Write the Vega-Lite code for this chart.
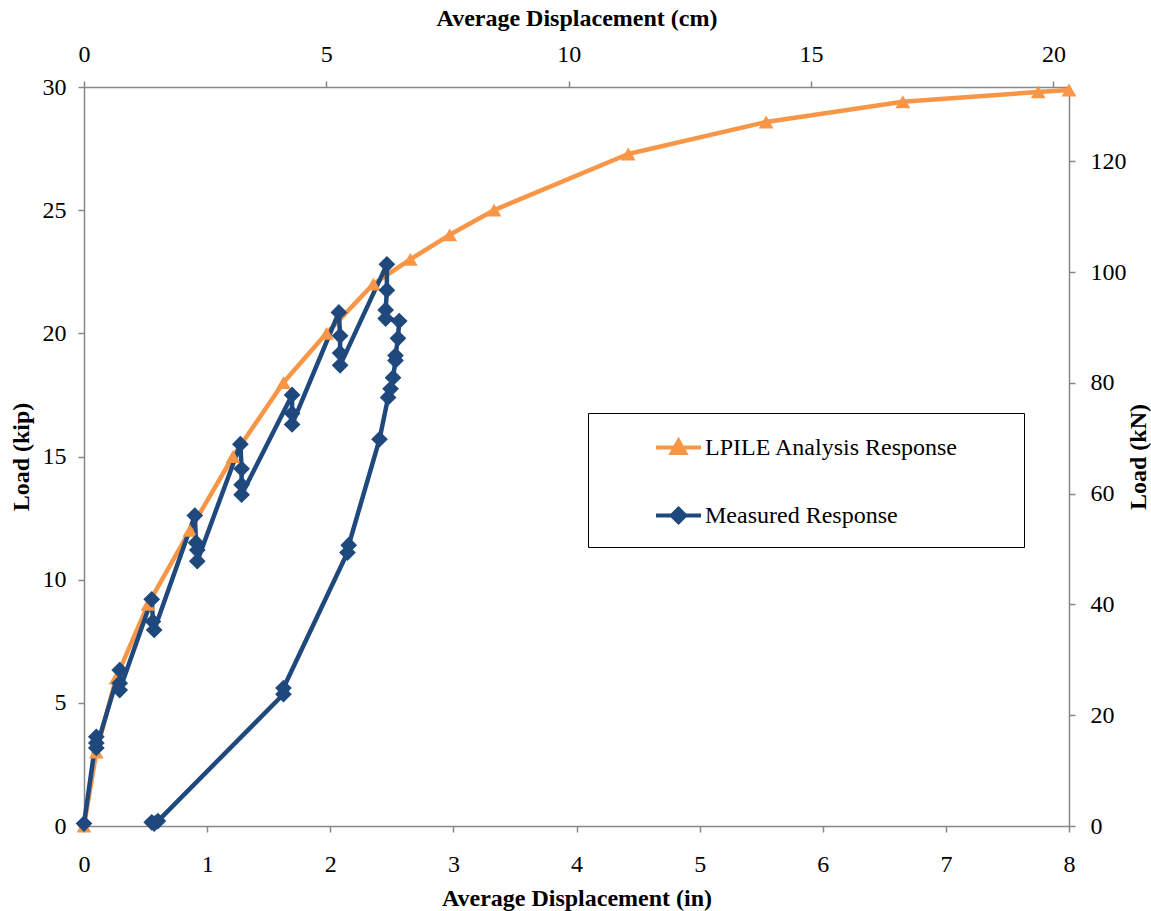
{
  "$schema": "https://vega.github.io/schema/vega-lite/v6.json",
  "width": 985,
  "height": 739,
  "autosize": {"type": "none"},
  "padding": {"left": 84, "top": 87, "right": 82, "bottom": 85},
  "background": "white",
  "config": {
    "view": {"stroke": null},
    "axis": {
      "grid": false,
      "labelFlush": false,
      "domainColor": "#878787",
      "domainWidth": 1.5,
      "tickColor": "#878787",
      "tickWidth": 1.5,
      "tickSize": 6,
      "labelFont": "Liberation Serif",
      "labelFontSize": 24,
      "labelColor": "#000000",
      "labelPadding": 15,
      "titleFont": "Liberation Serif",
      "titleFontSize": 24,
      "titleFontWeight": "bold",
      "titleColor": "#000000"
    }
  },
  "datasets": {
    "curves": [
      {"series": "LPILE Analysis Response", "i": 0, "in": 0.0, "kip": 0.0},
      {"series": "LPILE Analysis Response", "i": 1, "in": 0.1, "kip": 3.0},
      {"series": "LPILE Analysis Response", "i": 2, "in": 0.26, "kip": 6.0},
      {"series": "LPILE Analysis Response", "i": 3, "in": 0.52, "kip": 9.0},
      {"series": "LPILE Analysis Response", "i": 4, "in": 0.86, "kip": 12.0},
      {"series": "LPILE Analysis Response", "i": 5, "in": 1.21, "kip": 15.0},
      {"series": "LPILE Analysis Response", "i": 6, "in": 1.62, "kip": 18.0},
      {"series": "LPILE Analysis Response", "i": 7, "in": 1.97, "kip": 20.0},
      {"series": "LPILE Analysis Response", "i": 8, "in": 2.35, "kip": 22.0},
      {"series": "LPILE Analysis Response", "i": 9, "in": 2.65, "kip": 23.0},
      {"series": "LPILE Analysis Response", "i": 10, "in": 2.97, "kip": 24.0},
      {"series": "LPILE Analysis Response", "i": 11, "in": 3.33, "kip": 25.0},
      {"series": "LPILE Analysis Response", "i": 12, "in": 4.42, "kip": 27.28},
      {"series": "LPILE Analysis Response", "i": 13, "in": 5.54, "kip": 28.58},
      {"series": "LPILE Analysis Response", "i": 14, "in": 6.65, "kip": 29.4},
      {"series": "LPILE Analysis Response", "i": 15, "in": 7.75, "kip": 29.8},
      {"series": "LPILE Analysis Response", "i": 16, "in": 8.0, "kip": 29.88},
      {"series": "Measured Response", "i": 0, "in": 0.0, "kip": 0.1},
      {"series": "Measured Response", "i": 1, "in": 0.1, "kip": 3.62},
      {"series": "Measured Response", "i": 2, "in": 0.1, "kip": 3.37},
      {"series": "Measured Response", "i": 3, "in": 0.1, "kip": 3.17},
      {"series": "Measured Response", "i": 4, "in": 0.29, "kip": 6.33},
      {"series": "Measured Response", "i": 5, "in": 0.29, "kip": 5.8},
      {"series": "Measured Response", "i": 6, "in": 0.29, "kip": 5.52},
      {"series": "Measured Response", "i": 7, "in": 0.55, "kip": 9.2},
      {"series": "Measured Response", "i": 8, "in": 0.56, "kip": 8.3},
      {"series": "Measured Response", "i": 9, "in": 0.57, "kip": 7.96},
      {"series": "Measured Response", "i": 10, "in": 0.9, "kip": 12.6},
      {"series": "Measured Response", "i": 11, "in": 0.91, "kip": 11.5},
      {"series": "Measured Response", "i": 12, "in": 0.92, "kip": 11.2},
      {"series": "Measured Response", "i": 13, "in": 0.92, "kip": 10.75},
      {"series": "Measured Response", "i": 14, "in": 1.27, "kip": 15.5},
      {"series": "Measured Response", "i": 15, "in": 1.28, "kip": 14.5},
      {"series": "Measured Response", "i": 16, "in": 1.28, "kip": 13.85},
      {"series": "Measured Response", "i": 17, "in": 1.28, "kip": 13.45},
      {"series": "Measured Response", "i": 18, "in": 1.69, "kip": 17.5},
      {"series": "Measured Response", "i": 19, "in": 1.69, "kip": 16.75},
      {"series": "Measured Response", "i": 20, "in": 1.69, "kip": 16.3},
      {"series": "Measured Response", "i": 21, "in": 2.07, "kip": 20.85},
      {"series": "Measured Response", "i": 22, "in": 2.08, "kip": 19.9},
      {"series": "Measured Response", "i": 23, "in": 2.08, "kip": 19.2},
      {"series": "Measured Response", "i": 24, "in": 2.08, "kip": 18.7},
      {"series": "Measured Response", "i": 25, "in": 2.46, "kip": 22.8},
      {"series": "Measured Response", "i": 26, "in": 2.46, "kip": 21.75},
      {"series": "Measured Response", "i": 27, "in": 2.45, "kip": 20.95},
      {"series": "Measured Response", "i": 28, "in": 2.45, "kip": 20.6},
      {"series": "Measured Response", "i": 29, "in": 2.56, "kip": 20.5},
      {"series": "Measured Response", "i": 30, "in": 2.55, "kip": 19.8},
      {"series": "Measured Response", "i": 31, "in": 2.53, "kip": 19.1},
      {"series": "Measured Response", "i": 32, "in": 2.53, "kip": 18.9},
      {"series": "Measured Response", "i": 33, "in": 2.51, "kip": 18.2},
      {"series": "Measured Response", "i": 34, "in": 2.49, "kip": 17.75},
      {"series": "Measured Response", "i": 35, "in": 2.47, "kip": 17.4},
      {"series": "Measured Response", "i": 36, "in": 2.4, "kip": 15.7},
      {"series": "Measured Response", "i": 37, "in": 2.15, "kip": 11.4},
      {"series": "Measured Response", "i": 38, "in": 2.14, "kip": 11.1},
      {"series": "Measured Response", "i": 39, "in": 1.62, "kip": 5.6},
      {"series": "Measured Response", "i": 40, "in": 1.62, "kip": 5.35},
      {"series": "Measured Response", "i": 41, "in": 0.6, "kip": 0.2},
      {"series": "Measured Response", "i": 42, "in": 0.57, "kip": 0.1},
      {"series": "Measured Response", "i": 43, "in": 0.55, "kip": 0.15}
    ],
    "metric": [
      {"cm": 0, "kN": 0},
      {"cm": 20.32, "kN": 133.45}
    ]
  },
  "layer": [
    {
      "data": {"name": "curves"},
      "encoding": {
        "x": {
          "field": "in", "type": "quantitative",
          "scale": {"domain": [0, 8], "nice": false, "zero": false},
          "axis": {"orient": "bottom", "values": [0, 1, 2, 3, 4, 5, 6, 7, 8], "title": "Average Displacement  (in)", "labelPadding": 20, "titlePadding": 10}
        },
        "y": {
          "field": "kip", "type": "quantitative",
          "scale": {"domain": [0, 30], "nice": false, "zero": false},
          "axis": {"orient": "left", "values": [0, 5, 10, 15, 20, 25, 30], "title": "Load (kip)", "labelPadding": 12, "titlePadding": 9}
        },
        "color": {
          "field": "series", "type": "nominal",
          "scale": {"domain": ["LPILE Analysis Response", "Measured Response"], "range": ["#F79646", "#1F497D"]},
          "legend": {
            "title": null,
            "orient": "none",
            "legendX": 504,
            "legendY": 326,
            "direction": "vertical",
            "padding": 10,
            "strokeColor": "#000000",
            "fillColor": "#ffffff",
            "symbolOffset": 56,
            "labelOffset": 2,
            "rowPadding": 22,
            "labelFont": "Liberation Serif",
            "labelFontSize": 24,
            "labelColor": "#000000",
            "labelLimit": 600,
            "encode": {
              "symbols": {
                "update": {
                  "shape": {"signal": "datum.value === 'LPILE Analysis Response' ? 'M-1,0H1M0,-0.3L0.3,0.24L-0.3,0.24ZM14.55,0.58' : 'M-1,0H1M0,-0.3L0.3,0L0,0.3L-0.3,0ZM14.55,0.58'"},
                  "size": {"value": 2025},
                  "stroke": {"signal": "datum.value === 'LPILE Analysis Response' ? '#F79646' : '#1F497D'"},
                  "fill": {"signal": "datum.value === 'LPILE Analysis Response' ? '#F79646' : '#1F497D'"},
                  "strokeWidth": {"value": 4},
                  "opacity": {"value": 1}
                }
              }
            }
          }
        },
        "order": {"field": "i", "type": "quantitative"}
      },
      "layer": [
        {
          "mark": {"type": "line", "strokeWidth": 4.5, "strokeJoin": "round"}
        },
        {
          "mark": {"type": "point", "filled": true, "opacity": 1},
          "encoding": {
            "shape": {
              "condition": {"test": "datum.series === 'Measured Response'", "value": "diamond"},
              "value": "triangle-up"
            },
            "size": {
              "condition": {"test": "datum.series === 'Measured Response'", "value": 280},
              "value": 220
            }
          }
        }
      ]
    },
    {
      "data": {"name": "metric"},
      "mark": {"type": "point", "opacity": 0},
      "encoding": {
        "x": {
          "field": "cm", "type": "quantitative",
          "scale": {"domain": [0, 20.32], "nice": false, "zero": false},
          "axis": {"orient": "top", "values": [0, 5, 10, 15, 20], "title": "Average Displacement (cm)", "titlePadding": 12}
        },
        "y": {
          "field": "kN", "type": "quantitative",
          "scale": {"domain": [0, 133.45], "nice": false, "zero": false},
          "axis": {"orient": "right", "values": [0, 20, 40, 60, 80, 100, 120], "title": "Load (kN)", "labelPadding": 15, "titleAngle": 270, "titleBaseline": "top", "titlePadding": 0}
        }
      }
    }
  ],
  "resolve": {
    "scale": {"x": "independent", "y": "independent", "color": "shared"},
    "axis": {"x": "independent", "y": "independent"}
  }
}
